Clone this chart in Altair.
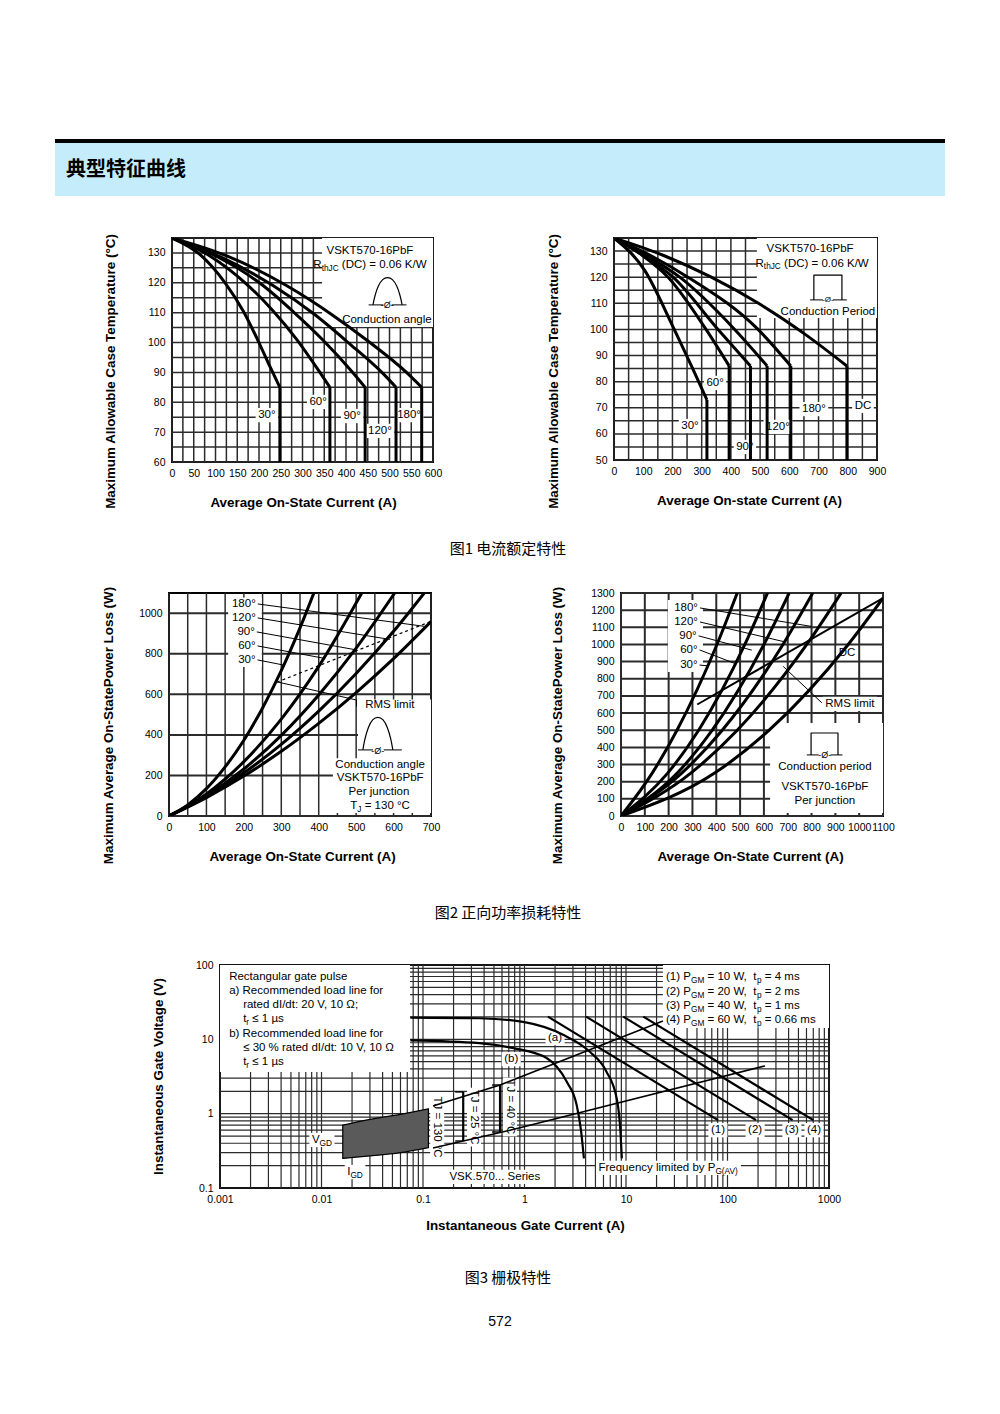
import math
import altair as alt
import pandas as pd

FONT = "Liberation Sans"
CJK = "Noto Sans CJK SC"
GRID = "#2b2b2b"

# ======================= DATA =======================
# Fig.1 left: max. allowable case temperature vs average on-state current (conduction angle)
F1A_LABELS = ["30°", "60°", "90°", "120°", "180°"]
F1A_I = [
    [0, 64, 122, 164, 195, 225, 248],
    [0, 87, 172, 233, 287, 340, 363],
    [0, 103, 210, 279, 348, 413, 444],
    [0, 114, 233, 325, 405, 486, 515],
    [0, 126, 264, 371, 455, 539, 574],
]
F1A_T = [
    [135, 129.5, 120, 110.5, 101.5, 92, 85],
    [135, 129, 119.5, 110.5, 101, 90, 85],
    [135, 128.8, 119, 110.3, 100.7, 90.4, 85],
    [135, 128.5, 119, 109.7, 100, 89.5, 85],
    [135, 129, 119, 109, 100, 90, 85],
]
F1A_LABEL_I = [218, 336, 414, 478, 545]
F1A_LABEL_T = [75.7, 80.1, 75.4, 70.4, 75.7]

# Fig.1 right: conduction period
F1B_LABELS = ["30°", "60°", "90°", "120°", "180°", "DC"]
F1B_I = [
    [0, 105, 202, 265, 318],
    [0, 95, 185, 315, 394],
    [0, 105, 202, 356, 467],
    [0, 115, 225, 413, 524],
    [0, 130, 253, 493, 605],
    [0, 170, 333, 500, 652, 797],
]
F1B_T = [
    [135, 122.6, 101, 86, 73],
    [135, 128.5, 120, 100, 86],
    [135, 128, 120, 100, 86],
    [135, 128, 120, 100, 86],
    [135, 128, 120, 100, 86],
    [135, 128.3, 120, 109.6, 98.3, 86],
]
F1B_LABEL_I = [260, 346, 448, 561, 684, 852]
F1B_LABEL_T = [63, 79.5, 55, 62.7, 69.5, 70.7]

# Fig.2 left: on-state power loss (conduction angle)
F2A_LABELS = ["180°", "120°", "90°", "60°", "30°"]
F2A_I = [
    [0, 100, 200, 300, 400, 500, 600, 700],
    [0, 100, 200, 300, 400, 500, 600, 682],
    [0, 100, 200, 300, 400, 500, 603],
    [0, 100, 200, 300, 400, 515],
    [0, 50, 100, 150, 200, 250, 300, 350, 387],
]
F2A_P = [
    [0, 91, 197, 319, 457, 609, 776, 959],
    [0, 95, 213, 353, 517, 703, 911, 1100],
    [0, 100, 232, 398, 597, 828, 1100],
    [0, 109, 268, 478, 738, 1100],
    [0, 55, 135, 242, 374, 533, 717, 928, 1100],
]
F2A_LABEL_I = [200, 200, 206, 208, 208]
F2A_LABEL_P = [1046, 977, 908, 839, 770]
F2A_LEAD_I = [688, 590, 501, 417, 305]
F2A_LEAD_P = [934, 871, 819, 777, 745]
F2A_RMS_I = [288, 700]
F2A_RMS_P = [660, 960]

# Fig.2 right: on-state power loss (conduction period)
F2B_LABELS = ["180°", "120°", "90°", "60°", "30°"]
F2B_I = [
    [0, 293, 488, 780, 924],
    [0, 255, 425, 680, 805],
    [0, 236, 383, 600, 706],
    [0, 196, 326, 520, 615],
    [0, 131, 235, 403, 488],
    [0, 393, 622, 954, 1100],
]
F2B_P = [
    [0, 250, 500, 1000, 1300],
    [0, 250, 500, 1000, 1300],
    [0, 250, 500, 1000, 1300],
    [0, 250, 500, 1000, 1300],
    [0, 250, 500, 1000, 1300],
    [0, 250, 500, 1000, 1270],
]
F2B_LABEL_I = [273, 273, 281, 285, 285]
F2B_LABEL_P = [1213, 1131, 1050, 968, 880]
F2B_LEAD_I = [800, 688, 549, 479, 365]
F2B_LEAD_P = [1105, 1015, 967, 889, 875]
F2B_RMS_I = [320, 1100]
F2B_RMS_P = [650, 1270]

# Fig.3 gate characteristics (log-log)
F3_A_I = [0.075, 0.36, 1, 2.4, 4.4, 6.4, 8.1, 8.8, 9.1]
F3_A_V = [19.6, 19.2, 17, 11.5, 6.8, 3.7, 1.6, 0.6, 0.25]
F3_B_I = [0.075, 0.36, 0.78, 1.65, 2.6, 3.27, 3.6, 3.85]
F3_B_V = [9.7, 8.9, 7.6, 5.6, 2.7, 1.3, 0.6, 0.25]
F3_PGM_LABELS = ["(1)", "(2)", "(3)", "(4)"]
F3_PGM_I0 = [1.7, 4.04, 9.4, 14.8]
F3_PGM_I1 = [80.5, 191, 438, 700]
F3_PGM_V0 = [20.2, 20.2, 20.2, 20.2]
F3_PGM_V1 = [0.82, 0.82, 0.82, 0.82]
F3_PGM_LABEL_I = [80.5, 187, 431, 711]
F3_TJ_UP_I = [0.1255, 0.574, 23.1]
F3_TJ_UP_V = [1.27, 2.43, 17.7]
F3_TJ_LO_I = [0.1255, 0.72, 234]
F3_TJ_LO_V = [0.345, 0.60, 4.39]
F3_BRACKET_I = [0.249, 0.574]
F3_BRACKET_V0 = [0.429, 0.567]
F3_BRACKET_V1 = [1.96, 2.43]
F3_GD_I = [0.0162, 0.03, 0.06, 0.113]
F3_GD_VTOP = [0.70, 0.84, 0.98, 1.16]
F3_GD_VBOT = [0.25, 0.27, 0.30, 0.35]

# ======================= helpers =======================
AW = {' ': 278, '\u00a0': 278, '!': 278, '(': 333, ')': 333, ',': 278, '-': 333, '.': 278, '/': 278,
      ':': 278, ';': 278, '=': 584, '%': 889, '°': 400, 'Ω': 768, 'µ': 576, '≤': 549, 'Ø': 778}
for _c in "0123456789":
    AW[_c] = 556
AW.update(dict(A=667, B=667, C=722, D=722, E=667, F=611, G=778, H=722, I=278, J=500, K=667, L=556,
               M=833, N=722, O=778, P=667, Q=778, R=722, S=667, T=611, U=722, V=667, W=944, X=667,
               Y=667, Z=611))
AW.update(dict(a=556, b=556, c=500, d=556, e=556, f=278, g=556, h=556, i=222, j=222, k=500, l=222,
               m=833, n=556, o=556, p=556, q=556, r=333, s=500, t=278, u=556, v=500, w=722, x=500,
               y=500, z=500))


def tw(s, size):
    return sum(AW.get(c, 556) for c in s) * size / 1000.0


class Panel:
    def __init__(self, xd, yd, w, h, xlog=False, ylog=False):
        self.xd, self.yd, self.w, self.h, self.xlog, self.ylog = xd, yd, w, h, xlog, ylog

    def set_axes(self, xvals, yvals, xtitle, ytitle, xt, yt, fmt="d"):
        common = dict(grid=False, ticks=False, domain=False, labelFont=FONT, labelFontSize=10.5,
                      labelColor="black", labelOverlap=False, titleFont=FONT, titleFontSize=13.4,
                      titleFontWeight="bold", titleColor="black", titleBaseline="middle",
                      titleAlign="center", format=fmt)
        self.xa = alt.Axis(values=xvals, title=xtitle, labelPadding=6, labelFlush=False,
                           titleX=xt[0], titleY=xt[1], **common)
        self.ya = alt.Axis(values=yvals, title=ytitle, labelPadding=7, titleAngle=270,
                           titleX=yt[0], titleY=yt[1], **common)

    def X(self, f="x"):
        return alt.X(f + ":Q", scale=alt.Scale(type="log" if self.xlog else "linear", domain=list(self.xd),
                                               nice=False, zero=False), axis=self.xa)

    def Y(self, f="y"):
        return alt.Y(f + ":Q", scale=alt.Scale(type="log" if self.ylog else "linear", domain=list(self.yd),
                                               nice=False, zero=False), axis=self.ya)

    @staticmethod
    def _f(v, d, n, lg):
        if lg:
            return (math.log10(v) - math.log10(d[0])) / (math.log10(d[1]) - math.log10(d[0])) * n
        return (v - d[0]) / (d[1] - d[0]) * n

    @staticmethod
    def _i(p, d, n, lg):
        if lg:
            return 10 ** (math.log10(d[0]) + p / n * (math.log10(d[1]) - math.log10(d[0])))
        return d[0] + p / n * (d[1] - d[0])

    def sx(self, v, dp):
        return self._i(self._f(v, self.xd, self.w, self.xlog) + dp, self.xd, self.w, self.xlog)

    def sy(self, v, dp):
        return self._i(self._f(v, self.yd, self.h, self.ylog) + dp, self.yd, self.h, self.ylog)


def rich(p, x, y, segs, size=11.5, align="center", pad=2.5):
    ws = [tw(t, size * (0.72 if sub else 1)) for t, sub in segs]
    total = sum(ws)
    off = {"center": -total / 2, "right": -total, "left": 0}[align]
    start = off
    rows = []
    for (t, sub), w in zip(segs, ws):
        fs = size * (0.72 if sub else 1)
        lead = len(t) - len(t.lstrip(" "))
        txt = t.strip(" ")
        rows.append({"x": p.sx(x, off + tw(" " * lead, fs)), "y": p.sy(y, -0.32 * size if sub else 0),
                     "t": txt, "fs": fs})
        off += w
    box = {"x": p.sx(x, start - pad), "x2": p.sx(x, start + total + pad),
           "y": p.sy(y, -size * 0.62), "y2": p.sy(y, size * 0.62)}
    return rows, box


def L_rect(p, rows, color="white"):
    return alt.Chart(pd.DataFrame(rows)).mark_rect(color=color).encode(
        x=p.X(), x2="x2:Q", y=p.Y(), y2="y2:Q")


def L_lines(p, xs_list, ys_list, width=3.0, interp="monotone", dash=None):
    rows = []
    for k, (xs, ys) in enumerate(zip(xs_list, ys_list)):
        for i, (a, b) in enumerate(zip(xs, ys)):
            rows.append({"x": a, "y": b, "k": k, "o": i})
    kw = dict(color="black", strokeWidth=width, interpolate=interp, clip=True, strokeJoin="round")
    if dash:
        kw["strokeDash"] = dash
    return alt.Chart(pd.DataFrame(rows)).mark_line(**kw).encode(
        x=p.X(), y=p.Y(), detail="k:N", order="o:Q")


def L_vrule(p, rows, width=3.0):
    return alt.Chart(pd.DataFrame(rows)).mark_rule(color="black", strokeWidth=width).encode(
        x=p.X(), y=p.Y(), y2="y2:Q")


def L_hrule(p, rows, width=1.0):
    return alt.Chart(pd.DataFrame(rows)).mark_rule(color="black", strokeWidth=width).encode(
        x=p.X(), x2="x2:Q", y=p.Y())


def L_text(p, rows, align="left", angle=0):
    return alt.Chart(pd.DataFrame(rows)).mark_text(
        align=align, baseline="middle", font=FONT, color="black", angle=angle).encode(
        x=p.X(), y=p.Y(), text="t:N", size=alt.Size("fs:Q", scale=None, legend=None))


def panel_chart(p, vgrid, hgrid, gwv, gwh, layers):
    vg = alt.Chart(pd.DataFrame({"x": vgrid})).mark_rule(color=GRID, strokeWidth=gwv).encode(x=p.X())
    hg = alt.Chart(pd.DataFrame({"y": hgrid})).mark_rule(color=GRID, strokeWidth=gwh).encode(y=p.Y())
    return alt.layer(vg, hg, *layers).properties(
        width=p.w, height=p.h, view=alt.ViewBackground(stroke="black", strokeWidth=2))


one = pd.DataFrame({"a": [0]})


def spacer(w, h, items=()):
    layers = [alt.Chart(one).mark_text(text=" ", fontSize=4).encode(x=alt.value(w / 2), y=alt.value(h / 2))]
    for txt, x, y, font, size in items:
        layers.append(alt.Chart(one).mark_text(text=txt, font=font, fontSize=size, align="center",
                                               baseline="middle", color="black").encode(
            x=alt.value(x), y=alt.value(y)))
    return alt.layer(*layers).properties(width=w, height=h)


# ======================= Fig.1 left =======================
P1 = Panel((0, 600), (60, 135), 261, 224)
P1.set_axes(list(range(0, 601, 50)), list(range(60, 131, 10)),
            "Average On-State Current (A)", "Maximum Allowable Case Temperature (°C)",
            (131, 40), (-62, 133))
boxes, texts = [], []
boxes.append({"x": 345, "x2": 600, "y": 105.2, "y2": 135})
for lab, xi, yi in zip(F1A_LABELS, F1A_LABEL_I, F1A_LABEL_T):
    r, b = rich(P1, xi, yi, [(lab, 0)])
    texts += r
    boxes.append(b)
texts += rich(P1, 455, 130.6, [("VSKT570-16PbF", 0)])[0]
texts += rich(P1, 455, 125.8, [("R", 0), ("thJC", 1), (" (DC) = 0.06 K/W", 0)])[0]
texts += rich(P1, 494, 107.5, [("Conduction angle", 0)])[0]
texts += rich(P1, 495, 112.6, [("-Ø-", 0)], size=9)[0]
ICON_FX = [0, 0.06, 0.18, 0.33, 0.5, 0.67, 0.82, 0.94, 1]
ICON_FY = [0, 0.32, 0.7, 0.94, 1, 0.94, 0.7, 0.32, 0]
arch1 = ([462 + f * 67 for f in ICON_FX], [112.6 + g * 9.3 for g in ICON_FY])
C1 = panel_chart(P1, list(range(0, 601, 25)), list(range(60, 136, 5)), 1.5, 1.5, [
    L_rect(P1, boxes),
    L_lines(P1, F1A_I, F1A_T, 3.0),
    L_vrule(P1, [{"x": xs[-1], "y": ys[-1], "y2": 60} for xs, ys in zip(F1A_I, F1A_T)], 3.0),
    L_lines(P1, [arch1[0]], [arch1[1]], 1.2, interp="basis"),
    L_hrule(P1, [{"x": 452, "x2": 486, "y": 112.6}, {"x": 505, "x2": 539, "y": 112.6}], 1.0),
    L_text(P1, texts),
])

# ======================= Fig.1 right =======================
P2 = Panel((0, 900), (50, 135), 263, 222)
P2.set_axes(list(range(0, 901, 100)), list(range(50, 131, 10)),
            "Average On-state Current (A)", "Maximum Allowable Case Temperature (°C)",
            (135, 40), (-61, 133))
boxes, texts = [], []
boxes.append({"x": 489, "x2": 900, "y": 104.4, "y2": 135})
for lab, xi, yi in zip(F1B_LABELS, F1B_LABEL_I, F1B_LABEL_T):
    r, b = rich(P2, xi, yi, [(lab, 0)])
    texts += r
    boxes.append(b)
texts += rich(P2, 671, 130.8, [("VSKT570-16PbF", 0)])[0]
texts += rich(P2, 678, 125.2, [("R", 0), ("thJC", 1), (" (DC) = 0.06 K/W", 0)])[0]
texts += rich(P2, 732, 106.7, [("Conduction Period", 0)])[0]
texts += rich(P2, 732, 111.3, [("-Ø-", 0)], size=8)[0]
C2 = panel_chart(P2, list(range(0, 901, 50)), list(range(50, 136, 5)), 1.5, 1.5, [
    L_rect(P2, boxes),
    L_lines(P2, F1B_I, F1B_T, 3.0),
    L_vrule(P2, [{"x": xs[-1], "y": ys[-1], "y2": 50} for xs, ys in zip(F1B_I, F1B_T)], 3.0),
    L_lines(P2, [[684, 684, 780, 780]], [[111.3, 120.8, 120.8, 111.3]], 1.2, interp="linear"),
    L_hrule(P2, [{"x": 671, "x2": 715, "y": 111.3}, {"x": 749, "x2": 797, "y": 111.3}], 1.0),
    L_text(P2, texts),
])

# ======================= Fig.2 left =======================
P3 = Panel((0, 700), (0, 1100), 262, 223)
P3.set_axes(list(range(0, 701, 100)), list(range(0, 1001, 200)),
            "Average On-State Current (A)", "Maximum Average On-StatePower Loss (W)",
            (133, 40), (-61, 132))
boxes, texts = [], []
boxes.append({"x": 158, "x2": 248, "y": 735, "y2": 1078})
boxes.append({"x": 505, "x2": 700, "y": 15, "y2": 575})
boxes.append({"x": 438, "x2": 700, "y": 15, "y2": 285})
lead_rows = []
for lab, xi, yi, lx, ly in zip(F2A_LABELS, F2A_LABEL_I, F2A_LABEL_P, F2A_LEAD_I, F2A_LEAD_P):
    texts += rich(P3, xi, yi, [(lab, 0)])[0]
    lead_rows.append(([P3.sx(xi, tw(lab, 11.5) / 2 + 2), lx], [yi, ly]))
texts += rich(P3, 590, 548, [("RMS limit", 0)])[0]
texts += rich(P3, 564, 252, [("Conduction angle", 0)])[0]
texts += rich(P3, 564, 187, [("VSKT570-16PbF", 0)])[0]
texts += rich(P3, 561, 118, [("Per junction", 0)])[0]
texts += rich(P3, 564, 49, [("T", 0), ("J", 1), (" = 130 °C", 0)])[0]
texts += rich(P3, 558, 322, [("-Ø-", 0)], size=9)[0]
arch3 = ([518 + f * 80 for f in ICON_FX], [326 + g * 164 for g in ICON_FY])
C3 = panel_chart(P3, list(range(0, 701, 50)), list(range(0, 1101, 200)), 1.5, 2.0, [
    L_rect(P3, boxes),
    L_lines(P3, F2A_I, F2A_P, 3.0),
    L_lines(P3, [a for a, b in lead_rows], [b for a, b in lead_rows], 1.0, interp="linear"),
    L_lines(P3, [F2A_RMS_I], [F2A_RMS_P], 1.2, interp="linear", dash=[3, 3]),
    L_lines(P3, [[288, 501, 501]], [[662, 572, 540]], 1.0, interp="linear"),
    L_lines(P3, [arch3[0]], [arch3[1]], 1.2, interp="basis"),
    L_hrule(P3, [{"x": 505, "x2": 545, "y": 326}, {"x": 574, "x2": 622, "y": 326}], 1.0),
    L_text(P3, texts),
])

# ======================= Fig.2 right =======================
P4 = Panel((0, 1100), (0, 1300), 262, 223)
P4.set_axes(list(range(0, 1101, 100)), list(range(0, 1301, 100)),
            "Average On-State Current (A)", "Maximum Average On-StatePower Loss (W)",
            (129, 40), (-64, 132))
boxes, texts = [], []
boxes.append({"x": 197, "x2": 344, "y": 840, "y2": 1259})
boxes.append({"x": 626, "x2": 1100, "y": 17, "y2": 542})
lead_rows = []
for lab, xi, yi, lx, ly in zip(F2B_LABELS, F2B_LABEL_I, F2B_LABEL_P, F2B_LEAD_I, F2B_LEAD_P):
    texts += rich(P4, xi, yi, [(lab, 0)])[0]
    lead_rows.append(([P4.sx(xi, tw(lab, 11.5) / 2 + 2), lx], [yi, ly]))
for lab, xi, yi in [("DC", 949, 950), ("RMS limit", 961, 653)]:
    r, b = rich(P4, xi, yi, [(lab, 0)])
    texts += r
    boxes.append(b)
texts += rich(P4, 856, 286, [("Conduction period", 0)])[0]
texts += rich(P4, 856, 169, [("VSKT570-16PbF", 0)])[0]
texts += rich(P4, 856, 87, [("Per junction", 0)])[0]
texts += rich(P4, 855, 356, [("-Ø-", 0)], size=9)[0]
C4 = panel_chart(P4, list(range(0, 1101, 100)), list(range(0, 1301, 100)), 2.0, 2.0, [
    L_rect(P4, boxes),
    L_lines(P4, F2B_I, F2B_P, 3.0),
    L_lines(P4, [F2B_RMS_I], [F2B_RMS_P], 2.0, interp="linear"),
    L_lines(P4, [a for a, b in lead_rows] + [[681, 843]], [b for a, b in lead_rows] + [[872, 660]],
            1.0, interp="linear"),
    L_lines(P4, [[798, 798, 911, 911]], [[356, 484, 484, 356]], 1.2, interp="linear"),
    L_hrule(P4, [{"x": 780, "x2": 830, "y": 356}, {"x": 880, "x2": 930, "y": 356}], 1.0),
    L_text(P4, texts),
])

# ======================= Fig.3 =======================
P5 = Panel((0.001, 1000), (0.1, 100), 609, 223, xlog=True, ylog=True)
P5.set_axes([0.001, 0.01, 0.1, 1, 10, 100, 1000], [0.1, 1, 10, 100],
            "Instantaneous Gate Current (A)", "Instantaneous Gate Voltage (V)",
            (305, 37), (-62, 111), fmt="~g")
XG = [m * 10 ** d for d in range(-3, 3) for m in range(1, 10)] + [1000]
YG = [m * 10 ** d for d in range(-1, 2) for m in range(1, 10)] + [100]
boxes, texts, rtexts = [], [], []
boxes.append({"x": 0.001, "x2": 0.0745, "y": 3.64, "y2": 100})
boxes.append({"x": 23.1, "x2": 1000, "y": 14.2, "y2": 100})
UL = [(0.00123, 69.2, [("Rectangular gate pulse", 0)]),
      (0.00123, 44.8, [("a) Recommended load line for", 0)]),
      (0.00169, 29.0, [("rated dI/dt: 20 V, 10 Ω;", 0)]),
      (0.00169, 18.8, [("t", 0), ("r", 1), (" ≤ 1 µs", 0)]),
      (0.00123, 11.8, [("b) Recommended load line for", 0)]),
      (0.00169, 7.66, [("≤ 30 % rated dI/dt: 10 V, 10 Ω", 0)]),
      (0.00169, 4.96, [("t", 0), ("r", 1), (" ≤ 1 µs", 0)])]
for xi, yi, segs in UL:
    texts += rich(P5, xi, yi, segs, align="left")[0]
UR = [("(1)", "10", "4"), ("(2)", "20", "2"), ("(3)", "40", "1"), ("(4)", "60", "0.66")]
for (n, pw, tp), yi in zip(UR, [69.2, 43.5, 28.2, 18.2]):
    texts += rich(P5, 24.8, yi, [(n + " P", 0), ("GM", 1), (" = " + pw + " W,\u00a0 t", 0), ("p", 1),
                                 (" = " + tp + " ms", 0)], align="left")[0]
LBL = [(2.0, 10.4, [("(a)", 0)]), (0.74, 5.4, [("(b)", 0)]),
       (0.0101, 0.443, [("V", 0), ("GD", 1)]), (0.0214, 0.164, [("I", 0), ("GD", 1)]),
       (0.51, 0.141, [("VSK.570... Series", 0)]),
       (26.2, 0.186, [("Frequency limited by P", 0), ("G(AV)", 1)])]
for lab, xi in zip(F3_PGM_LABELS, F3_PGM_LABEL_I):
    LBL.append((xi, 0.6, [(lab, 0)]))
for xi, yi, segs in LBL:
    r, b = rich(P5, xi, yi, segs)
    texts += r
    boxes.append(b)
for lab, xi, yi in [("TJ = 130 °C", 0.138, 0.66), ("TJ = 25 °C", 0.318, 0.9), ("TJ = 40 °C", 0.72, 1.23)]:
    L = tw(lab, 11.5)
    rtexts.append({"x": xi, "y": yi, "t": lab, "fs": 11.5})
    boxes.append({"x": P5.sx(xi, -7), "x2": P5.sx(xi, 7), "y": P5.sy(yi, -L / 2 - 2), "y2": P5.sy(yi, L / 2 + 2)})
pgm_x = [[a, b] for a, b in zip(F3_PGM_I0, F3_PGM_I1)]
pgm_y = [[a, b] for a, b in zip(F3_PGM_V0, F3_PGM_V1)]
br_rows = [{"x": xi, "y": a, "y2": b} for xi, a, b in zip(F3_BRACKET_I, F3_BRACKET_V0, F3_BRACKET_V1)]
tick_rows = []
for xi, a, b in zip(F3_BRACKET_I, F3_BRACKET_V0, F3_BRACKET_V1):
    tick_rows.append({"x": P5.sx(xi, -8), "x2": xi, "y": a})
    tick_rows.append({"x": P5.sx(xi, -8), "x2": xi, "y": b})
gd = pd.DataFrame({"x": F3_GD_I, "y": F3_GD_VTOP, "y2": F3_GD_VBOT})
gd_layer = alt.Chart(gd).mark_area(color="#5a5a5a", stroke="black", strokeWidth=1.2,
                                   interpolate="monotone").encode(x=P5.X(), y=P5.Y(), y2="y2:Q")
C5 = panel_chart(P5, XG, YG, 1.2, 1.2, [
    L_rect(P5, boxes),
    gd_layer,
    L_lines(P5, [F3_A_I, F3_B_I], [F3_A_V, F3_B_V], 2.2),
    L_lines(P5, pgm_x, pgm_y, 2.2, interp="linear"),
    L_lines(P5, [F3_TJ_UP_I, F3_TJ_LO_I], [F3_TJ_UP_V, F3_TJ_LO_V], 1.6, interp="linear"),
    L_vrule(P5, br_rows, 2.2),
    L_hrule(P5, tick_rows, 1.4),
    L_text(P5, texts),
    L_text(P5, rtexts, align="center", angle=90),
])

# ======================= page furniture =======================
header = alt.layer(
    alt.Chart(one).mark_rect(color="black").encode(
        x=alt.value(47), x2=alt.value(937), y=alt.value(131), y2=alt.value(135)),
    alt.Chart(one).mark_rect(color="#C4ECFA").encode(
        x=alt.value(47), x2=alt.value(937), y=alt.value(135), y2=alt.value(188)),
    alt.Chart(one).mark_text(text="典型特征曲线", font=CJK, fontSize=20, fontWeight="bold",
                             align="left", baseline="middle", color="black").encode(
        x=alt.value(58), y=alt.value(162)),
).properties(width=940, height=224)

# each row: a left spacer (carries the caption below that row) + panels
row1 = alt.hconcat(spacer(164, 347, [("图1  电流额定特性", 500, 311, CJK, 15)]),
                   C1, spacer(181, 10), C2, spacing=0, bounds="flush")
row2 = alt.hconcat(spacer(161, 366, [("图2  正向功率损耗特性", 500, 320, CJK, 15)]),
                   C3, spacer(190, 10), C4, spacing=0, bounds="flush")
row3 = alt.hconcat(spacer(212, 383, [("图3  栅极特性", 500, 313, CJK, 15), ("572", 492, 357, FONT, 14)]),
                   C5, spacing=0, bounds="flush")

chart = alt.vconcat(header, row1, row2, row3, spacing=0, bounds="full").properties(
    padding=0
).configure(font=FONT).configure_view(stroke=None)

chart.save("out.html", embed_options={"renderer": "svg", "actions": False})
